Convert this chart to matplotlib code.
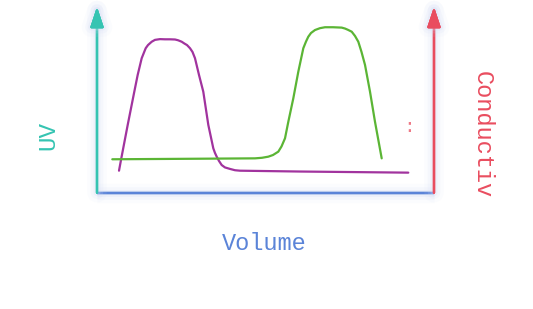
import matplotlib
matplotlib.use("Agg")
import matplotlib.pyplot as plt
import matplotlib.patheffects as pe

# ---- data (x = volume 0..10, y = signal 0..100) ----
purple_volume = [0.653, 0.721, 0.911, 1.107, 1.207, 1.326, 1.445, 1.513, 1.623, 1.721,
                 1.869, 2.018, 2.166, 2.315, 2.404, 2.513, 2.596, 2.671, 2.760, 2.834,
                 2.908, 3.027, 3.154, 3.303, 3.451, 3.501, 3.552, 3.620, 3.700, 3.798,
                 3.947, 4.095, 4.243, 6.024, 9.237]
purple_signal = [11.85, 18.5, 36.5, 54.4, 63.4, 72.4, 77.8, 79.5, 81.3, 82.3,
                 82.7, 82.6, 82.6, 82.5, 82.1, 81.3, 80.3, 79.5, 77.8, 75.8,
                 72.4, 63.4, 54.4, 36.5, 23.9, 21.4, 19.4, 17.1, 14.9, 13.6,
                 12.8, 12.1, 11.85, 11.4, 10.8]

green_volume = [0.454, 3.056, 4.688, 4.896, 5.083, 5.223, 5.380, 5.475, 5.579, 5.677,
                5.825, 5.974, 6.122, 6.202, 6.270, 6.350, 6.469, 6.617, 6.766, 7.003,
                7.261, 7.359, 7.448, 7.558, 7.656, 7.754, 7.849, 7.953, 8.101, 8.249, 8.448]
green_signal = [18.0, 18.3, 18.5, 18.8, 19.4, 20.3, 22.1, 24.9, 29.3, 38.2,
                50.8, 65.2, 77.8, 81.4, 84.0, 86.0, 87.6, 88.6, 89.1, 89.1,
                88.9, 88.4, 87.7, 86.7, 84.4, 81.3, 75.8, 68.8, 54.4, 38.2, 18.5]

x_label = "Volume"
left_label = "UV"
right_label = "Conductiv"
stray_text = ":"

TEAL = "#35c4b2"
RED = "#e94d5f"
BLUE = "#5b84d8"
PURPLE = "#a1339e"
GREEN = "#5bb535"
GLOW = "#d3dbf5"

W, H = 533, 309
fig = plt.figure(figsize=(W / 100, H / 100), dpi=100)
L, R, B, T = 97, 434, 192.7, 7
ax = fig.add_axes([L / W, 1 - B / H, (R - L) / W, (B - T) / H])
ax.set_xlim(0, 10)
ax.set_ylim(0, 100)
ax.axis("off")

glow = [pe.withStroke(linewidth=14, foreground=GLOW, alpha=0.08),
        pe.withStroke(linewidth=9, foreground=GLOW, alpha=0.14),
        pe.withStroke(linewidth=5, foreground=GLOW, alpha=0.22),
        pe.Normal()]

# bottom axis
ax.plot([0, 10], [0, 0], color=BLUE, lw=1.6, solid_capstyle="butt",
        path_effects=glow, clip_on=False, zorder=2)
# left / right axes with arrows
for xf, col in [(0, TEAL), (1, RED)]:
    ann = ax.annotate("", xy=(xf, 1.0), xytext=(xf, 0.0), xycoords="axes fraction",
                      arrowprops=dict(arrowstyle="-|>,head_length=0.6,head_width=0.2",
                                      color=col, lw=1.6, mutation_scale=20,
                                      shrinkA=0, shrinkB=0))
    ann.arrow_patch.set_path_effects(glow)
    ann.set_zorder(3)

ax.plot(purple_volume, purple_signal, color=PURPLE, lw=1.6, zorder=4,
        solid_joinstyle="round", solid_capstyle="round")
ax.plot(green_volume, green_signal, color=GREEN, lw=1.6, zorder=4,
        solid_joinstyle="round", solid_capstyle="round")

ax.text(9.26, 35.3, stray_text, color=RED, fontsize=14, ha="center", va="center",
        family="Liberation Mono", alpha=0.75)

font = "Liberation Mono"
fig.text(264 / W, 1 - 243 / H, x_label, color=BLUE, fontsize=17, family=font,
         ha="center", va="center")
fig.text(48.3 / W, 1 - 135 / H, left_label, color=TEAL, fontsize=17.5, family=font,
         ha="center", va="center", rotation=90)
fig.text(482.5 / W, 1 - 135 / H, right_label, color=RED, fontsize=17, family=font,
         ha="center", va="center", rotation=270)

fig.savefig("out.png", dpi=100)
